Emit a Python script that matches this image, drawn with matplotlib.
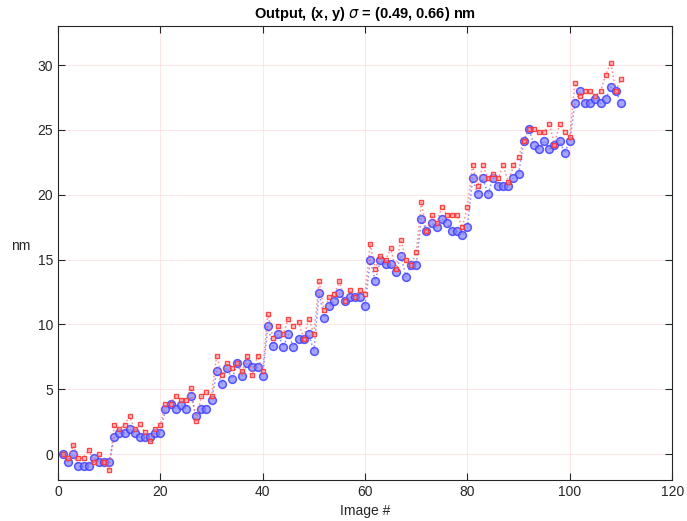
import matplotlib
matplotlib.use("Agg")
import matplotlib.pyplot as plt
import numpy as np

plt.rcParams["font.family"] = ["Liberation Sans", "DejaVu Sans"]

image_num = np.arange(1, 111)

pos_x = [
    0.00, -0.62, 0.00, -0.95, -0.95, -0.95, -0.31, -0.62, -0.62, -0.62,
    1.31, 1.62, 1.62, 1.95, 1.62, 1.28, 1.28, 1.28, 1.62, 1.62,
    3.51, 3.85, 3.51, 3.82, 3.51, 4.46, 2.90, 3.51, 3.51, 4.15,
    6.38, 5.44, 6.67, 5.77, 7.00, 6.05, 7.00, 6.72, 6.72, 6.05,
    9.87, 8.31, 9.26, 8.28, 9.23, 8.28, 8.90, 8.90, 9.23, 7.95,
    12.44, 10.51, 11.44, 11.77, 12.41, 11.77, 12.08, 12.08, 12.08, 11.44,
    14.95, 13.36, 14.95, 14.64, 14.64, 14.05, 15.26, 13.67, 14.62, 14.62,
    18.15, 17.18, 17.79, 17.49, 18.15, 17.79, 17.18, 17.18, 16.87, 17.49,
    21.28, 20.03, 21.28, 20.05, 21.28, 20.67, 20.67, 20.64, 21.31, 21.60,
    24.18, 25.10, 23.85, 23.54, 24.18, 23.54, 23.85, 24.18, 23.21, 24.18,
    27.05, 27.97, 27.05, 27.05, 27.36, 27.05, 27.36, 28.30, 27.97, 27.05,
]

pos_y = [
    0.00, -0.31, 0.67, -0.31, -0.31, 0.33, -0.62, 0.00, -0.62, -1.23,
    2.26, 1.92, 2.26, 2.90, 1.92, 2.30, 1.67, 0.97, 1.92, 2.26,
    3.88, 3.85, 4.49, 4.18, 4.18, 5.13, 2.56, 4.46, 4.79, 4.49,
    7.60, 6.08, 7.00, 6.67, 7.00, 6.41, 7.60, 6.08, 7.60, 6.41,
    10.80, 8.92, 9.87, 9.23, 10.44, 9.87, 10.18, 8.90, 10.44, 9.23,
    13.33, 11.13, 12.08, 12.38, 13.33, 11.77, 12.69, 12.08, 12.69, 12.38,
    16.18, 14.30, 15.26, 14.95, 15.87, 14.31, 16.54, 14.95, 14.62, 15.56,
    19.41, 17.18, 18.44, 17.79, 19.08, 18.44, 18.44, 18.44, 17.49, 19.08,
    22.26, 20.67, 22.26, 21.28, 21.60, 21.28, 22.26, 20.97, 22.26, 22.90,
    24.18, 25.10, 25.10, 24.82, 24.82, 25.46, 23.85, 25.46, 24.82, 24.49,
    28.59, 27.64, 27.97, 27.97, 27.64, 27.97, 29.23, 30.20, 28.00, 28.92,
]

fig = plt.figure(figsize=(6.87, 5.21), dpi=100)
ax = fig.add_axes([0.0844, 0.0787, 0.894, 0.871])

ax.plot(image_num, pos_x, linestyle=":", linewidth=1.1, color=(0.35, 0.35, 1.0, 0.7),
        marker="o", markersize=5.6, markerfacecolor=(0.5, 0.5, 1.0, 0.7),
        markeredgecolor=(0.25, 0.25, 1.0, 0.85), markeredgewidth=1.1, zorder=3)
ax.plot(image_num, pos_y, linestyle=":", linewidth=1.1, color=(1.0, 0.35, 0.35, 0.7),
        marker="s", markersize=3.4, markerfacecolor=(1.0, 0.65, 0.65, 0.55),
        markeredgecolor=(1.0, 0.2, 0.2, 0.9), markeredgewidth=1.0, zorder=4)

ax.set_xlim(0, 120)
ax.set_ylim(-2, 33)
ax.set_xticks(np.arange(0, 121, 20))
ax.set_yticks(np.arange(0, 31, 5))
ax.grid(True, color=(1.0, 0.88, 0.88), linewidth=0.6, linestyle="-")
ax.set_axisbelow(True)

ax.tick_params(direction="in", length=5, width=0.8, top=True, right=True,
               labelsize=10, colors=(0.15, 0.15, 0.15))
for spine in ax.spines.values():
    spine.set_color((0.15, 0.15, 0.15))
    spine.set_linewidth(0.8)

ax.set_xlabel("Image #", fontsize=10, color=(0.15, 0.15, 0.15))
ax.set_ylabel("nm", fontsize=10, rotation=0, color=(0.15, 0.15, 0.15), labelpad=12)
ax.set_title(r"Output, (x, y) $\sigma$ = (0.49, 0.66) nm", fontsize=10.5,
             fontweight="bold", pad=6)

fig.savefig("out.png", dpi=100)
